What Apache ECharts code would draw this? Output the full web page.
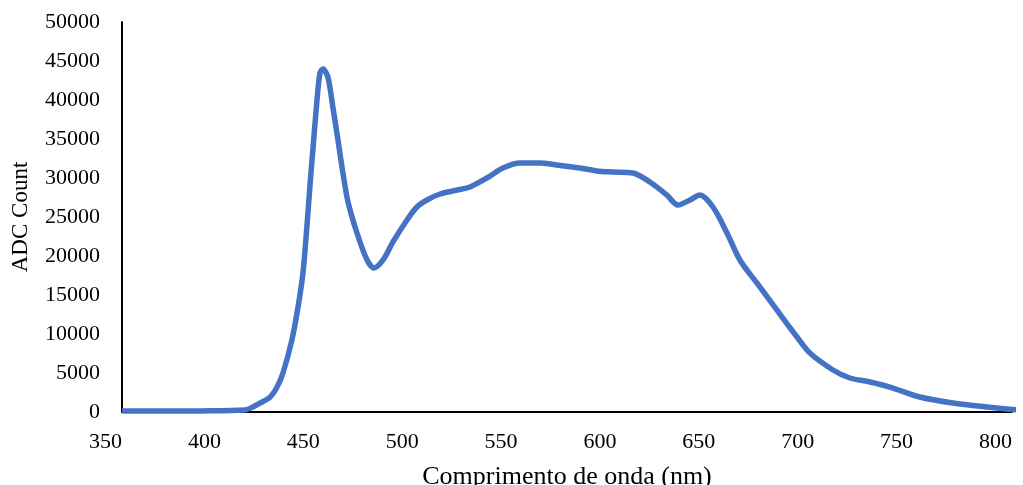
<!DOCTYPE html>
<html>
<head>
<meta charset="utf-8">
<script src="https://cdn.jsdelivr.net/npm/echarts@6/dist/echarts.min.js"></script>
<style>
html,body{margin:0;padding:0;background:#fff;}
#chart{width:1023px;height:485px;}
</style>
</head>
<body>
<div id="chart"></div>
<script>
// Wavelength (nm) and ADC count
const wavelengths = [350.0, 369.2, 389.4, 412.2, 416.2, 419.8, 424.8, 428.4, 431.4, 435.9, 439.0, 441.5, 443.5, 445.0, 446.6, 448.6, 450.1, 451.6, 454.1, 456.6, 459.2, 461.7, 464.3, 468.8, 473.9, 477.4, 482.0, 487.0, 494.1, 499.1, 504.2, 510.8, 519.4, 525.9, 534.5, 542.6, 551.2, 561.3, 569.9, 581.5, 590.1, 598.2, 608.3, 616.9, 625.5, 631.1, 637.2, 642.2, 648.8, 655.9, 662.4, 671.0, 681.1, 691.3, 697.8, 709.5, 718.0, 728.2, 738.3, 753.4, 770.1, 787.3, 803.0];
const adcCounts = [130, 120, 140, 260, 640, 1150, 1900, 3200, 5000, 9230, 13460, 17820, 23800, 28900, 33900, 40000, 43460, 43970, 42950, 39100, 34870, 30640, 26900, 22950, 19490, 18460, 19490, 21800, 24620, 26280, 27180, 27950, 28460, 28850, 30000, 31280, 31920, 31920, 31670, 31280, 30900, 30770, 30640, 29490, 27820, 26540, 27180, 27820, 26280, 22950, 19490, 16540, 13080, 9620, 7560, 5390, 4360, 3850, 3200, 1920, 1150, 640, 260];
const xTicks = [350, 400, 450, 500, 550, 600, 650, 700, 750, 800];
const yTicks = [0, 5000, 10000, 15000, 20000, 25000, 30000, 35000, 40000, 45000, 50000];

const chart = echarts.init(document.getElementById('chart'));
const serif = '"Liberation Serif", "Times New Roman", serif';
chart.setOption({
  animation: false,
  grid: {left: 122, right: 11, top: 22, bottom: 73, containLabel: false, outerBoundsMode: 'none'},
  xAxis: {
    type: 'value',
    min: xTicks[0], max: xTicks[xTicks.length - 1], interval: 50,
    name: 'Comprimento de onda (nm)',
    nameLocation: 'middle', nameGap: 52,
    nameTextStyle: {fontFamily: serif, fontSize: 26, color: '#000'},
    axisLine: {show: true, lineStyle: {color: '#000', width: 2}},
    axisTick: {show: false},
    splitLine: {show: false},
    axisLabel: {fontFamily: serif, fontSize: 22, color: '#000', margin: 19, align: 'right',
      formatter: v => String(v)}
  },
  yAxis: {
    type: 'value',
    min: yTicks[0], max: yTicks[yTicks.length - 1], interval: 5000,
    name: 'ADC Count',
    nameLocation: 'middle', nameGap: 90,
    nameTextStyle: {fontFamily: serif, fontSize: 23, color: '#000'},
    axisLine: {show: true, lineStyle: {color: '#000', width: 2}},
    axisTick: {show: false},
    splitLine: {show: false},
    axisLabel: {fontFamily: serif, fontSize: 22, color: '#000', margin: 22,
      formatter: v => String(v)}
  },
  series: [{
    type: 'line',
    data: wavelengths.map((w, i) => [w, adcCounts[i]]),
    smooth: 0.3,
    showSymbol: false,
    clip: false,
    lineStyle: {color: '#4472C4', width: 5.5}
  }]
});
</script>
</body>
</html>
